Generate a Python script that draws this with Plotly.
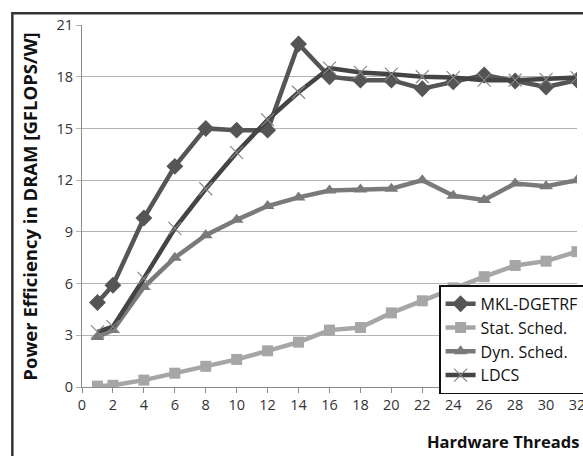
import plotly.graph_objects as go

threads = [1, 2, 4, 6, 8, 10, 12, 14, 16, 18, 20, 22, 24, 26, 28, 30, 32]
mkl = [4.9, 5.9, 9.8, 12.8, 15.0, 14.9, 14.9, 19.9, 18.0, 17.8, 17.8, 17.3, 17.7, 18.1, 17.75, 17.4, 17.8]
stat = [0.05, 0.1, 0.4, 0.8, 1.2, 1.6, 2.1, 2.6, 3.3, 3.45, 4.3, 5.0, 5.75, 6.4, 7.05, 7.3, 7.85]
dyn = [2.9, 3.3, 5.8, 7.5, 8.8, 9.7, 10.5, 11.0, 11.4, 11.45, 11.5, 12.0, 11.1, 10.85, 11.8, 11.65, 12.0]
ldcs = [3.2, 3.5, 6.3, 9.2, 11.5, 13.6, 15.5, 17.1, 18.5, 18.25, 18.15, 18.0, 17.95, 17.8, 17.8, 17.85, 17.95]

FONT = "Open Sans"
fig = go.Figure()
fig.add_trace(go.Scatter(x=threads, y=mkl, name="MKL-DGETRF", mode="lines+markers",
                         line=dict(color="#555555", width=4.5),
                         marker=dict(symbol="diamond", size=13, color="#555555")))
fig.add_trace(go.Scatter(x=threads, y=stat, name="Stat. Sched.", mode="lines+markers",
                         line=dict(color="#a6a6a6", width=4.5),
                         marker=dict(symbol="square", size=11, color="#a6a6a6")))
fig.add_trace(go.Scatter(x=threads, y=dyn, name="Dyn. Sched.", mode="lines+markers",
                         line=dict(color="#7a7a7a", width=4.5),
                         marker=dict(symbol="triangle-up", size=12, color="#7a7a7a")))
fig.add_trace(go.Scatter(x=threads, y=ldcs, name="LDCS", mode="lines+markers",
                         line=dict(color="#444444", width=4.5),
                         marker=dict(symbol="x-thin", size=13, color="#888888",
                                     line=dict(width=1.2, color="#888888"))))

# The reference is a crop of a larger framed figure: the page is wider than the
# 583 px window and the overflow is hidden, so the frame and legend run off the edge.
W, H = 640, 456
L, T, B = 81.7, 24.7, 69.3
R = W - 577
pw, ph = W - L - R, H - T - B

fig.update_layout(
    width=W, height=H,
    margin=dict(l=L, r=R, t=T, b=B),
    paper_bgcolor="white", plot_bgcolor="white",
    font=dict(family=FONT, size=14, color="#333333"),
    showlegend=True,
    legend=dict(x=(439 - L) / pw, y=(H - B - 285) / ph, xanchor="left", yanchor="top",
                bgcolor="white", bordercolor="#111111", borderwidth=1.5,
                font=dict(family=FONT, size=16, color="#111111"),
                tracegroupgap=0, itemwidth=30),
    xaxis=dict(range=[0, 32], tickmode="array", tickvals=list(range(0, 33, 2)),
               showgrid=False, zeroline=False, showline=True, linecolor="#8c8c8c", linewidth=1,
               ticks="outside", ticklen=5, tickcolor="#8c8c8c",
               tickfont=dict(family=FONT, size=14.5, color="#333333")),
    yaxis=dict(range=[0, 21], tickmode="array", tickvals=list(range(0, 22, 3)),
               showgrid=True, gridcolor="#b3b3b3", gridwidth=1, zeroline=False,
               showline=True, linecolor="#8c8c8c", linewidth=1,
               ticks="outside", ticklen=5, tickcolor="#b3b3b3",
               tickfont=dict(family=FONT, size=14.5, color="#333333")),
    shapes=[dict(type="rect", xref="paper", yref="paper",
                 x0=(12 - L) / pw, x1=1.3, y0=-0.4, y1=(H - B - 13) / ph,
                 line=dict(color="#333333", width=2.5), fillcolor="rgba(0,0,0,0)", layer="below")],
    annotations=[
        dict(text="<b>Hardware Threads</b>", xref="paper", yref="paper",
             x=(581 - L) / pw, y=(H - B - 441.7) / ph, xanchor="right", yanchor="middle",
             showarrow=False, font=dict(family=FONT, size=16.5, color="#111111")),
        dict(text="<b>Power Efficiency in DRAM [GFLOPS/W]</b>", xref="paper", yref="paper",
             x=(29 - L) / pw, y=(H - B - 206) / ph, xanchor="center", yanchor="middle",
             textangle=-90, showarrow=False, font=dict(family=FONT, size=18.5, color="#111111")),
    ],
)
fig.write_html(
    "out.html",
    post_script="document.documentElement.style.overflow='hidden';document.body.style.overflow='hidden';",
)
